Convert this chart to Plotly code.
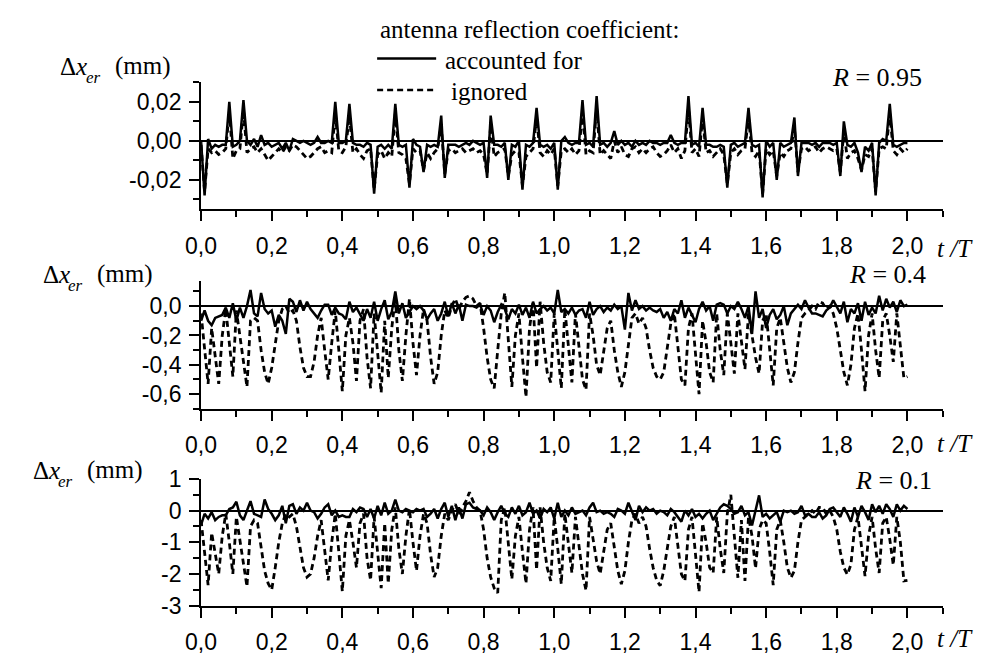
import plotly.graph_objects as go

# time axis t/T, sampled every 0.01
t_T = [round(i * 0.01, 2) for i in range(201)]

# R = 0.95 (mm)
r095_accounted = [
    0.000, -0.028, 0.001, -0.004, -0.002, -0.003, -0.002, -0.002, 0.020, -0.003,
    -0.002, 0.000, 0.021, 0.000, -0.002, 0.001, -0.003, 0.003, -0.002, -0.001,
    -0.003, -0.002, -0.001, -0.004, -0.001, -0.005, 0.001, 0.000, -0.001, 0.000,
    -0.001, -0.002, -0.001, 0.002, -0.001, -0.001, 0.000, -0.001, 0.020, -0.001,
    -0.001, 0.000, 0.019, -0.001, -0.002, -0.002, -0.003, -0.001, -0.002, -0.027,
    -0.003, -0.002, -0.004, -0.002, -0.004, 0.019, -0.002, -0.003, -0.002, -0.024,
    0.001, -0.002, -0.003, -0.016, -0.002, -0.003, -0.002, -0.003, 0.013, -0.019,
    -0.002, -0.002, -0.002, -0.003, -0.002, -0.001, -0.002, 0.000, -0.001, -0.002,
    -0.001, -0.019, 0.013, -0.002, -0.002, -0.003, -0.001, -0.020, -0.002, -0.003,
    0.000, -0.025, -0.002, -0.003, -0.001, 0.017, -0.002, -0.003, -0.002, -0.004,
    -0.001, -0.025, 0.000, 0.002, -0.001, -0.002, -0.001, -0.001, 0.021, -0.002,
    -0.001, -0.003, 0.023, -0.002, -0.001, -0.003, -0.001, 0.005, -0.002, 0.000,
    -0.002, -0.001, -0.003, 0.000, -0.002, -0.001, -0.002, 0.000, -0.001, -0.001,
    -0.002, -0.001, -0.001, 0.003, -0.001, -0.002, -0.001, -0.001, 0.023, -0.002,
    -0.001, -0.003, 0.017, -0.002, -0.002, -0.003, -0.003, -0.002, -0.003, -0.024,
    -0.002, -0.001, -0.003, -0.002, -0.001, 0.017, -0.002, -0.003, -0.002, -0.029,
    0.000, -0.003, -0.001, -0.020, -0.001, -0.003, -0.002, -0.001, 0.012, -0.018,
    -0.001, -0.001, -0.001, -0.002, -0.001, -0.003, -0.001, -0.001, -0.001, -0.002,
    -0.001, -0.018, 0.010, -0.002, -0.003, -0.001, -0.006, -0.016, -0.003, -0.005,
    -0.001, -0.028, -0.001, 0.001, 0.000, 0.019, -0.002, -0.003, -0.002, -0.001,
    -0.001,
]
r095_ignored = [
    -0.002, -0.026, -0.004, -0.006, -0.005, -0.007, -0.006, -0.004, 0.015, -0.009,
    -0.005, -0.004, 0.016, -0.006, -0.004, -0.003, -0.006, -0.004, -0.007, -0.010,
    -0.008, -0.006, -0.004, -0.006, -0.003, -0.005, -0.002, -0.003, -0.005, -0.007,
    -0.009, -0.008, -0.006, -0.004, -0.003, -0.006, -0.005, -0.006, 0.014, -0.005,
    -0.006, -0.003, 0.013, -0.006, -0.004, -0.007, -0.009, -0.005, -0.004, -0.025,
    -0.007, -0.005, -0.009, -0.006, -0.008, 0.014, -0.006, -0.007, -0.009, -0.022,
    -0.004, -0.006, -0.005, -0.015, -0.006, -0.009, -0.006, -0.004, 0.008, -0.017,
    -0.005, -0.004, -0.006, -0.005, -0.004, -0.006, -0.005, -0.004, -0.006, -0.005,
    -0.007, -0.017, 0.008, -0.008, -0.006, -0.005, -0.004, -0.018, -0.007, -0.005,
    -0.006, -0.023, -0.008, -0.006, -0.004, 0.012, -0.006, -0.008, -0.005, -0.007,
    -0.004, -0.023, -0.005, -0.004, -0.006, -0.004, -0.007, -0.005, 0.015, -0.007,
    -0.005, -0.006, 0.017, -0.007, -0.005, -0.007, -0.009, 0.000, -0.006, -0.003,
    -0.007, -0.008, -0.004, -0.003, -0.006, -0.004, -0.006, -0.004, -0.003, -0.006,
    -0.008, -0.007, -0.005, -0.002, -0.006, -0.004, -0.009, -0.005, 0.017, -0.006,
    -0.004, -0.008, 0.012, -0.006, -0.005, -0.008, -0.006, -0.004, -0.007, -0.022,
    -0.006, -0.004, -0.007, -0.005, -0.004, 0.012, -0.006, -0.008, -0.005, -0.027,
    -0.004, -0.007, -0.005, -0.018, -0.006, -0.008, -0.005, -0.004, 0.007, -0.016,
    -0.004, -0.003, -0.005, -0.004, -0.003, -0.006, -0.004, -0.003, -0.004, -0.005,
    -0.004, -0.016, 0.005, -0.009, -0.006, -0.005, -0.009, -0.015, -0.007, -0.008,
    -0.004, -0.026, -0.004, -0.003, -0.004, 0.014, -0.005, -0.007, -0.004, -0.006,
    -0.004,
]

# R = 0.4 (mm)
r04_accounted = [
    -0.10, -0.03, -0.10, -0.13, -0.08, -0.07, -0.06, -0.01, -0.08, 0.02,
    -0.10, -0.01, -0.08, 0.00, 0.11, -0.05, -0.07, 0.09, -0.02, -0.05,
    -0.03, -0.14, -0.06, -0.10, -0.19, 0.05, 0.03, -0.04, 0.04, -0.03,
    0.03, -0.02, -0.05, -0.08, -0.03, 0.01, 0.01, -0.06, -0.01, -0.05,
    -0.06, -0.09, 0.03, -0.04, -0.01, -0.06, -0.10, -0.02, -0.08, 0.03,
    -0.10, -0.02, 0.04, -0.09, -0.04, 0.10, -0.05, 0.02, -0.08, -0.04,
    0.00, -0.02, 0.00, -0.03, -0.09, -0.05, -0.02, -0.10, -0.05, 0.03,
    -0.07, 0.02, -0.05, 0.01, -0.10, 0.01, 0.00, 0.00, -0.01, 0.01,
    -0.06, 0.00, -0.03, -0.11, -0.04, 0.01, -0.02, -0.09, -0.02, -0.05,
    0.01, -0.06, -0.01, -0.08, 0.03, -0.05, -0.02, 0.00, -0.03, -0.01,
    -0.05, 0.11, -0.04, -0.02, -0.05, -0.01, -0.06, -0.03, -0.02, -0.08,
    0.03, -0.06, -0.02, 0.00, -0.04, -0.01, -0.03, 0.01, -0.02, 0.00,
    -0.16, 0.09, -0.03, 0.04, -0.02, 0.00, -0.03, -0.01, -0.03, -0.04,
    -0.02, -0.08, -0.04, -0.10, -0.02, -0.05, 0.04, -0.08, -0.01, -0.06,
    -0.11, -0.02, 0.03, -0.03, 0.00, -0.10, 0.01, 0.02, 0.01, -0.05,
    0.00, -0.02, 0.03, -0.02, -0.08, 0.00, -0.19, 0.10, -0.08, -0.02,
    -0.15, -0.06, -0.02, -0.09, -0.06, 0.00, -0.13, -0.05, -0.02, 0.01,
    -0.02, 0.04, -0.01, -0.05, -0.05, -0.06, -0.07, -0.03, -0.01, 0.04,
    0.00, -0.05, 0.03, -0.11, -0.02, -0.05, 0.02, -0.10, 0.03, -0.06,
    -0.01, -0.05, 0.07, -0.03, 0.05, -0.01, 0.03, -0.04, 0.04, 0.00,
    0.01,
]
r04_ignored = [
    -0.05, -0.30, -0.53, -0.15, -0.35, -0.53, -0.20, -0.02, -0.25, -0.48,
    -0.03, -0.20, -0.40, -0.55, -0.10, -0.08, -0.10, -0.30, -0.45, -0.53,
    -0.42, -0.25, -0.10, -0.02, 0.00, -0.05, -0.03, -0.10, -0.28, -0.42,
    -0.48, -0.48, -0.38, -0.20, -0.08, -0.30, -0.50, -0.25, -0.03, -0.30,
    -0.58, -0.20, -0.08, -0.25, -0.51, -0.10, -0.02, -0.35, -0.56, -0.05,
    -0.30, -0.59, -0.10, -0.49, -0.15, 0.06, -0.30, -0.51, -0.20, 0.05,
    -0.25, -0.47, -0.20, -0.02, -0.10, -0.35, -0.53, -0.45, -0.20, -0.03,
    -0.08, 0.00, 0.05, -0.02, 0.03, 0.06, 0.07, 0.05, 0.00, 0.02,
    -0.15, -0.35, -0.50, -0.56, -0.30, -0.05, 0.09, -0.25, -0.55, -0.20,
    -0.05, -0.35, -0.62, -0.15, 0.02, -0.42, 0.03, -0.25, -0.45, -0.52,
    -0.05, -0.30, -0.56, -0.02, -0.25, -0.52, -0.05, -0.30, -0.50, -0.57,
    -0.05, -0.20, -0.40, -0.47, -0.30, -0.15, -0.10, -0.30, -0.45, -0.55,
    -0.45, -0.25, -0.08, -0.05, -0.12, -0.08, -0.15, -0.30, -0.42, -0.48,
    -0.50, -0.45, -0.30, -0.12, -0.05, -0.30, -0.50, -0.54, -0.15, -0.05,
    -0.35, -0.60, -0.10, -0.25, -0.45, -0.52, -0.05, -0.30, -0.47, -0.05,
    -0.25, -0.46, -0.05, -0.25, -0.43, -0.05, -0.20, -0.35, -0.46, -0.10,
    -0.05, -0.30, -0.54, -0.15, -0.08, -0.25, -0.42, -0.52, -0.45, -0.25,
    -0.08, -0.05, -0.03, 0.00, -0.02, 0.03, 0.02, -0.02, 0.00, -0.05,
    -0.15, -0.30, -0.45, -0.54, -0.40, -0.15, -0.05, -0.30, -0.58, -0.20,
    -0.05, -0.30, -0.49, -0.10, -0.05, -0.20, -0.38, -0.05, -0.25, -0.49,
    -0.48,
]

# R = 0.1 (mm)
r01_accounted = [
    -0.45, -0.10, -0.25, -0.05, -0.30, -0.20, -0.15, -0.15, 0.05, 0.10,
    0.28, -0.15, -0.30, 0.00, 0.30, -0.10, -0.15, -0.20, 0.35, 0.05,
    -0.10, -0.30, -0.15, 0.15, -0.40, 0.15, 0.20, -0.10, 0.10, 0.00,
    0.25, 0.00, -0.05, -0.25, -0.10, 0.10, 0.20, -0.15, 0.00, -0.20,
    -0.15, -0.20, -0.20, 0.05, -0.05, 0.10, 0.05, -0.20, 0.05, -0.25,
    0.15, -0.15, 0.25, -0.10, 0.00, 0.35, 0.00, -0.05, 0.05, 0.00,
    -0.05, 0.05, 0.00, 0.05, -0.20, -0.10, 0.05, -0.25, 0.05, 0.25,
    -0.20, 0.15, -0.30, 0.10, -0.25, 0.20, 0.25, 0.10, 0.05, 0.00,
    -0.15, 0.10, -0.05, -0.30, -0.05, 0.15, -0.10, -0.20, 0.10, -0.10,
    0.15, -0.15, -0.05, 0.25, -0.10, 0.00, -0.25, 0.05, -0.05, 0.10,
    -0.25, 0.25, -0.20, 0.00, -0.15, 0.10, -0.10, -0.05, 0.00, -0.15,
    0.10, 0.25, -0.05, 0.00, -0.10, -0.05, -0.10, -0.20, 0.05, 0.00,
    -0.10, 0.25, 0.00, -0.30, 0.15, -0.05, 0.10, 0.00, 0.05, -0.10,
    0.00, -0.05, -0.15, 0.05, -0.05, -0.20, -0.35, 0.00, -0.15, 0.05,
    -0.20, -0.10, -0.25, -0.10, 0.00, -0.30, -0.10, 0.10, 0.20, 0.15,
    0.05, -0.10, -0.05, 0.15, -0.15, -0.05, -0.47, 0.05, 0.48, -0.20,
    -0.10, -0.25, -0.15, -0.05, -0.35, 0.00, -0.05, 0.00, -0.10, -0.05,
    0.15, -0.15, -0.10, -0.20, -0.20, -0.05, -0.25, -0.15, 0.05, 0.10,
    -0.05, -0.20, 0.10, -0.10, -0.35, 0.10, -0.20, 0.15, -0.05, -0.30,
    0.20, -0.05, 0.15, -0.10, 0.20, 0.05, -0.20, 0.20, 0.00, 0.15,
    0.05,
]
r01_ignored = [
    -0.30, -1.30, -2.35, -0.70, -1.40, -2.00, -0.80, -0.10, -1.00, -2.00,
    -0.20, -0.90, -1.70, -2.40, -0.50, -0.30, -0.40, -1.20, -1.90, -2.30,
    -2.50, -1.80, -1.00, -0.40, -0.10, -0.20, -0.10, -0.50, -1.20, -1.80,
    -2.10, -2.00, -1.50, -0.80, -0.30, -1.30, -2.20, -1.00, -0.10, -1.30,
    -2.55, -0.80, -0.30, -1.00, -1.80, -0.40, -0.10, -1.50, -2.20, -0.20,
    -1.30, -2.45, -0.40, -2.30, -0.60, 0.10, -1.20, -2.00, -0.80, 0.05,
    -1.00, -1.90, -0.80, -0.10, -0.40, -1.40, -2.10, -1.80, -0.80, -0.10,
    -0.30, 0.00, 0.20, -0.10, 0.10, 0.30, 0.58, 0.30, 0.10, 0.00,
    -0.60, -1.50, -2.10, -2.45, -2.60, -0.30, 0.10, -1.00, -2.17, -0.80,
    -0.20, -1.30, -2.30, -0.60, 0.10, -1.87, 0.10, -1.00, -1.80, -2.22,
    -0.20, -1.20, -2.32, -0.10, -1.00, -1.97, -0.20, -1.20, -2.00, -2.52,
    -0.20, -0.90, -1.60, -2.00, -1.30, -0.60, -0.40, -1.20, -1.90, -2.32,
    -1.90, -1.00, -0.30, -0.10, -0.40, -0.20, -0.50, -1.20, -1.80, -2.20,
    -2.37, -1.90, -1.20, -0.50, -0.20, -1.20, -2.00, -2.22, -0.60, -0.20,
    -1.40, -2.57, -0.40, -1.00, -1.80, -1.97, -0.20, -1.20, -1.97, -0.10,
    0.50, -0.90, -2.12, -0.30, -2.22, -0.20, -0.80, -1.82, -0.60, -0.30,
    -0.40, -1.30, -2.35, -0.60, -0.30, -1.00, -1.80, -2.12, -1.90, -1.00,
    -0.30, -0.20, -0.10, 0.00, -0.10, 0.10, 0.10, -0.10, 0.00, -0.20,
    -0.60, -1.30, -1.80, -2.02, -1.70, -0.60, -0.20, -1.20, -2.07, -0.80,
    -0.20, -1.20, -1.97, -0.40, -0.20, -0.90, -1.72, -0.20, -1.00, -2.22,
    -2.20,
]

# tick labels (comma decimal, plain hyphen minus as in the original)
x_ticks = [0.0, 0.2, 0.4, 0.6, 0.8, 1.0, 1.2, 1.4, 1.6, 1.8, 2.0]
x_labels = ["0,0", "0,2", "0,4", "0,6", "0,8", "1,0", "1,2", "1,4", "1,6", "1,8", "2,0"]
x_minor = [0.1, 0.3, 0.5, 0.7, 0.9, 1.1, 1.3, 1.5, 1.7, 1.9, 2.1]

y1_ticks = [-0.02, 0.0, 0.02]
y1_labels = ["-0,02", "0,00", "0,02"]
y1_minor = [-0.03, -0.01, 0.01, 0.03]

y2_ticks = [-0.6, -0.4, -0.2, 0.0]
y2_labels = ["-0,6", "-0,4", "-0,2", "0,0"]
y2_minor = [-0.7, -0.5, -0.3, -0.1, 0.1]

y3_ticks = [-3, -2, -1, 0, 1]
y3_labels = ["-3", "-2", "-1", "0", "1"]
y3_minor = [-2.5, -1.5, -0.5, 0.5]

panels = [
    # (accounted, ignored, y ticks, y labels, y minor, y range, R text)
    (r095_accounted, r095_ignored, y1_ticks, y1_labels, y1_minor, [-0.035, 0.03], "<i>R</i> = 0.95"),
    (r04_accounted, r04_ignored, y2_ticks, y2_labels, y2_minor, [-0.7, 0.17], "<i>R</i> = 0.4"),
    (r01_accounted, r01_ignored, y3_ticks, y3_labels, y3_minor, [-3, 1], "<i>R</i> = 0.1"),
]

# the page body keeps its default 8px margin, so the figure is shrunk and
# all positions below (taken in window pixels) are shifted by it
OFF = 8
W, H = 995 - 2 * OFF, 666 - 2 * OFF
SANS = "Liberation Sans"
SERIF = "Liberation Serif"


def px(xp):
    return (xp - OFF) / W


def py(yp):
    return 1 - (yp - OFF) / H


# window-pixel boxes of the three plot areas (top, bottom)
y_boxes = [(72, 204), (279, 412), (485, 617)]
x_box = (188, 942)

fig = go.Figure()

for k, (acc, ign, yt, yl, ym, yr, rtxt) in enumerate(panels):
    n = "" if k == 0 else str(k + 1)
    fig.add_trace(go.Scatter(
        x=t_T, y=ign, mode="lines", xaxis="x" + n, yaxis="y" + n,
        line=dict(color="black", width=2.8, dash="6px,4px"), showlegend=False,
    ))
    fig.add_trace(go.Scatter(
        x=t_T, y=acc, mode="lines", xaxis="x" + n, yaxis="y" + n,
        line=dict(color="black", width=2.5), showlegend=False,
    ))

    top, bot = y_boxes[k]
    fig.update_layout({
        "xaxis" + n: dict(
            domain=[px(x_box[0]), px(x_box[1])], anchor="y" + n, range=[0, 2.1],
            tickmode="array", tickvals=x_ticks, ticktext=x_labels,
            ticks="outside", ticklen=10, tickwidth=2, tickcolor="black",
            minor=dict(tickmode="array", tickvals=x_minor, ticks="outside",
                       ticklen=6, tickwidth=2, tickcolor="black"),
            showline=True, linewidth=2, linecolor="black",
            showgrid=False, zeroline=False, ticklabelstandoff=5,
            tickfont=dict(family=SANS, size=23, color="black"),
        ),
        "yaxis" + n: dict(
            domain=[py(bot), py(top)], anchor="x" + n, range=yr,
            tickmode="array", tickvals=yt, ticktext=yl,
            ticks="outside", ticklen=10, tickwidth=2, tickcolor="black",
            minor=dict(tickmode="array", tickvals=ym, ticks="outside",
                       ticklen=6, tickwidth=2, tickcolor="black"),
            showline=True, linewidth=2, linecolor="black",
            showgrid=False, zeroline=True, zerolinecolor="black", zerolinewidth=2,
            ticklabelstandoff=3,
            tickfont=dict(family=SANS, size=23, color="black"),
        ),
    })

annotations = []
# y-axis titles: Δx, subscript er, (mm) placed separately
for left, yc in [(43, 55), (25, 272), (15, 476)]:
    annotations += [
        dict(x=px(left), y=py(yc), xref="paper", yref="paper", xanchor="left", yanchor="middle",
             text="Δ<i>x</i>", showarrow=False, font=dict(family=SERIF, size=25, color="black")),
        dict(x=px(left + 26), y=py(yc + 12), xref="paper", yref="paper", xanchor="left",
             yanchor="middle", text="<i>er</i>", showarrow=False,
             font=dict(family=SERIF, size=17, color="black")),
        dict(x=px(left + 55), y=py(yc), xref="paper", yref="paper", xanchor="left", yanchor="middle",
             text="(mm)", showarrow=False, font=dict(family=SERIF, size=25, color="black")),
    ]
# R labels
for (right, yc), p in zip([(923, 67), (927, 272), (933, 487)], panels):
    annotations.append(dict(
        x=px(right), y=py(yc), xref="paper", yref="paper", xanchor="right", yanchor="middle",
        text=p[6], showarrow=False, font=dict(family=SERIF, size=26, color="black"),
    ))
# t/T labels
for yc in [245, 448, 651]:
    annotations.append(dict(
        x=px(934), y=py(yc), xref="paper", yref="paper", xanchor="left", yanchor="middle",
        text="<i>t /T</i>", showarrow=False, font=dict(family=SERIF, size=25, color="black"),
    ))
# legend block
annotations += [
    dict(x=px(368), y=py(17), xref="paper", yref="paper", xanchor="left", yanchor="middle",
         text="antenna reflection coefficient:", showarrow=False,
         font=dict(family=SERIF, size=25, color="black")),
    dict(x=px(434), y=py(49), xref="paper", yref="paper", xanchor="left", yanchor="middle",
         text="accounted for", showarrow=False, font=dict(family=SERIF, size=25, color="black")),
    dict(x=px(440), y=py(81), xref="paper", yref="paper", xanchor="left", yanchor="middle",
         text="ignored", showarrow=False, font=dict(family=SERIF, size=25, color="black")),
]

shapes = [
    dict(type="line", xref="paper", yref="paper", x0=px(367), x1=px(427), y0=py(47), y1=py(47),
         line=dict(color="black", width=2.5)),
    dict(type="line", xref="paper", yref="paper", x0=px(367), x1=px(427), y0=py(80), y1=py(80),
         line=dict(color="black", width=2.5, dash="6px,4px")),
]

fig.update_layout(
    width=W, height=H,
    margin=dict(l=0, r=0, t=0, b=0),
    paper_bgcolor="white", plot_bgcolor="white",
    showlegend=False,
    annotations=annotations,
    shapes=shapes,
)

fig.write_html("out.html")
